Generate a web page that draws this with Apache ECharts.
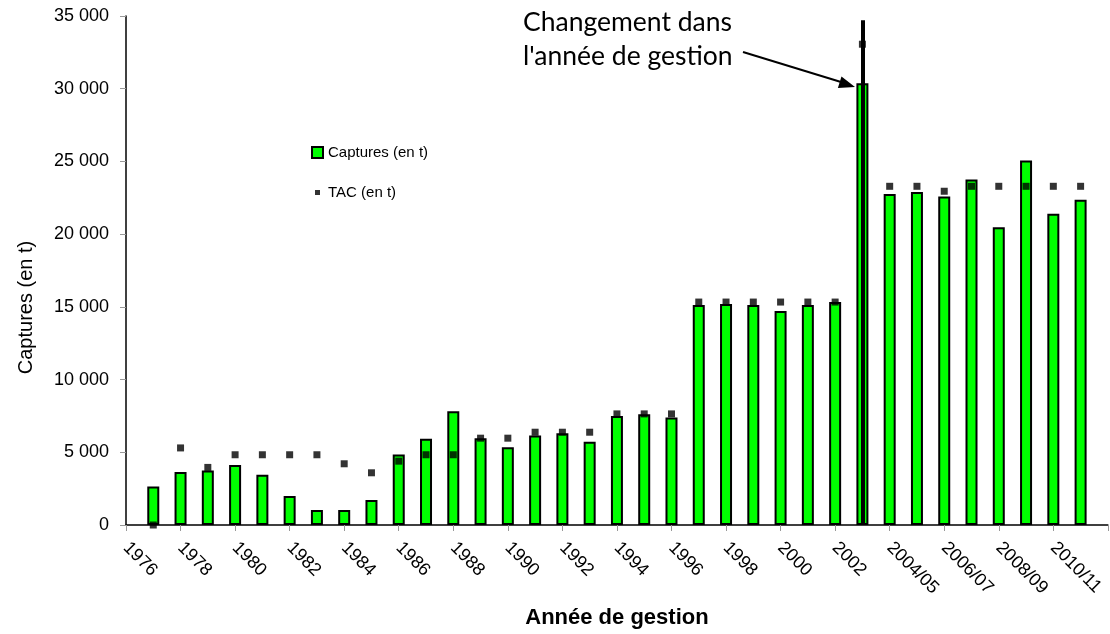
<!DOCTYPE html>
<html>
<head>
<meta charset="utf-8">
<script src="https://cdn.jsdelivr.net/npm/echarts@6/dist/echarts.min.js"></script>
<style>
  html, body { margin: 0; padding: 0; background: #fff; }
  #chart { width: 1110px; height: 634px; }
</style>
</head>
<body>
<div id="chart"></div>
<script>
var myChart = echarts.init(document.getElementById('chart'));

// annees de gestion (changement en 2003)
var seasons = ['1976', '1977', '1978', '1979', '1980', '1981', '1982', '1983', '1984', '1985',
  '1986', '1987', '1988', '1989', '1990', '1991', '1992', '1993', '1994', '1995',
  '1996', '1997', '1998', '1999', '2000', '2001', '2002', '2003',
  '2004/05', '2005/06', '2006/07', '2007/08', '2008/09', '2009/10', '2010/11', '2011/12'];

// captures en tonnes (pas de barre sur 1976)
var captures = [null, 2650, 3640, 3750, 4120, 3450, 1990, 1030, 1030, 1720,
  4850, 5930, 7830, 5970, 5350, 6150, 6310, 5720, 7500, 7620,
  7390, 15120, 15190, 15120, 14710, 15120, 15330, 30380,
  22760, 22900, 22580, 23750, 20470, 25070, 21410, 22370];

// TAC en tonnes
var tac = [null, 0, 5300, 3960, 4830, 4830, 4830, 4830, 4210, 3590,
  4390, 4830, 4830, 5970, 5970, 6380, 6380, 6380, 7640, 7640,
  7640, 15330, 15330, 15330, 15330, 15330, 15330, 33060,
  23290, 23290, 22950, 23290, 23290, 23290, 23290, 23290];

var yTicks = [0, 5000, 10000, 15000, 20000, 25000, 30000, 35000];

// une case vide a droite pour prolonger l'axe jusqu'au bord
var axisCats = seasons.concat(['']);
var fontFam = 'Liberation Sans, Arial, sans-serif';

function fmtNum(v) {
  return String(v).replace(/\B(?=(\d{3})+(?!\d))/g, ' ');
}

var option = {
  animation: false,
  backgroundColor: '#fff',
  textStyle: { fontFamily: fontFam },
  grid: { left: 126, top: 16, bottom: 108, right: -3 },
  legend: {
    orient: 'vertical',
    left: 306,
    top: 140,
    itemWidth: 11,
    itemHeight: 11,
    itemGap: 25,
    textStyle: { fontSize: 15, color: '#000', fontFamily: fontFam },
    data: [
      { name: 'Captures (en t)', icon: 'rect' },
      { name: 'TAC (en t)', icon: 'path://M0 0M11 11M3 3h5v5h-5z' }
    ]
  },
  xAxis: {
    type: 'category',
    data: axisCats,
    boundaryGap: false,
    name: 'Année de gestion',
    nameLocation: 'middle',
    nameGap: 82,
    nameTextStyle: { fontSize: 22, fontWeight: 'bold', color: '#000', fontFamily: fontFam },
    axisLine: { lineStyle: { color: '#000', width: 1.5 } },
    axisTick: { interval: 1, length: 6, lineStyle: { color: '#999' } },
    axisLabel: { interval: 1, rotate: -45, margin: 20, fontSize: 18, color: '#000' }
  },
  yAxis: {
    type: 'value',
    min: yTicks[0],
    max: yTicks[yTicks.length - 1],
    interval: 5000,
    name: 'Captures (en t)',
    nameLocation: 'middle',
    nameGap: 90,
    nameTextStyle: { fontSize: 20, color: '#000', padding: [0, 74, 0, 0], fontFamily: fontFam },
    splitLine: { show: false },
    axisLine: { show: true, lineStyle: { color: '#000', width: 1.5 } },
    axisTick: { show: true, length: 6, lineStyle: { color: '#999' } },
    axisLabel: { fontSize: 18, color: '#000', margin: 17, formatter: fmtNum }
  },
  series: [
    {
      name: 'Captures (en t)',
      type: 'bar',
      barWidth: 12,
      data: captures,
      itemStyle: { color: '#00ff00', borderColor: '#000', borderWidth: 2 },
      markLine: {
        silent: true,
        symbol: 'none',
        label: { show: false },
        lineStyle: { color: '#000', width: 4, type: 'solid' },
        data: [[{ coord: ['2003', 0] }, { coord: ['2003', 34700] }]]
      }
    },
    {
      name: 'TAC (en t)',
      type: 'scatter',
      symbol: 'rect',
      symbolSize: 7,
      z: 5,
      data: tac,
      itemStyle: { color: '#000' }
    }
  ],
  graphic: [
    {
      type: 'text',
      left: 523,
      top: 5,
      style: {
        text: 'Changement dans\nl\'année de gestion',
        font: '26.5px Lato, Carlito, sans-serif',
        lineHeight: 34,
        fill: '#000'
      }
    },
    {
      type: 'line',
      shape: { x1: 743, y1: 52, x2: 841, y2: 82 },
      style: { stroke: '#000', lineWidth: 2 }
    },
    {
      type: 'polygon',
      shape: { points: [[855, 87], [837.9, 87.9], [841.5, 76.5]] },
      style: { fill: '#000' }
    }
  ]
};

myChart.setOption(option);
</script>
</body>
</html>
